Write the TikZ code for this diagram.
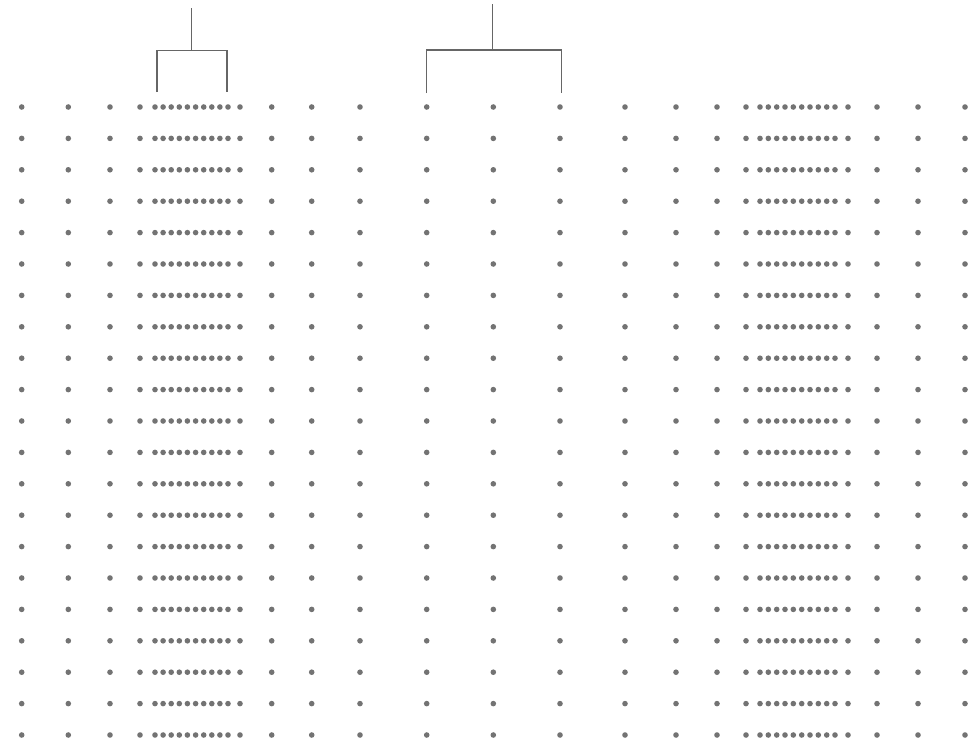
\documentclass[tikz,border=0pt]{standalone}
\begin{document}
\begin{tikzpicture}[x=1pt,y=-1pt,
  dotnode/.style={circle,fill=black!55,inner sep=0pt,minimum size=5.6pt},
  brack/.style={draw=black!60,line width=1.4pt}]
\useasboundingbox (0,0) rectangle (969,744);
% columns
\def\cols{21.7,68.3,110,140,155,163.1,171.2,179.3,187.4,195.6,203.7,211.8,219.9,228,240,271.7,311.7,360,426.7,493.3,560,625,676,717,746,760,768.3,776.7,785,793.3,801.7,810,818.3,826.7,835,848,877,918,965}
\foreach \xx [count=\c] in \cols {
  \foreach \r in {0,...,20} {
    \node[dotnode] (d-\c-\r) at (\xx,{107+31.4*\r}) {};
  }
}
% bracket 1
\coordinate (b1top) at (191.7,8);
\coordinate (b1mid) at (191.7,50.5);
\coordinate (b1l) at (157,50.5);
\coordinate (b1r) at (227,50.5);
\coordinate (b1lf) at (157,92);
\coordinate (b1rf) at (227,92);
\draw[brack] (b1top) -- (b1mid);
\draw[brack] (b1lf) -- (b1l) -- (b1r) -- (b1rf);
% bracket 2
\coordinate (b2top) at (492.3,4);
\coordinate (b2mid) at (492.3,50);
\coordinate (b2l) at (426.7,50);
\coordinate (b2r) at (561.7,50);
\coordinate (b2lf) at (426.7,93);
\coordinate (b2rf) at (561.7,93);
\draw[brack] (b2top) -- (b2mid);
\draw[brack] (b2lf) -- (b2l) -- (b2r) -- (b2rf);
\end{tikzpicture}
\end{document}
